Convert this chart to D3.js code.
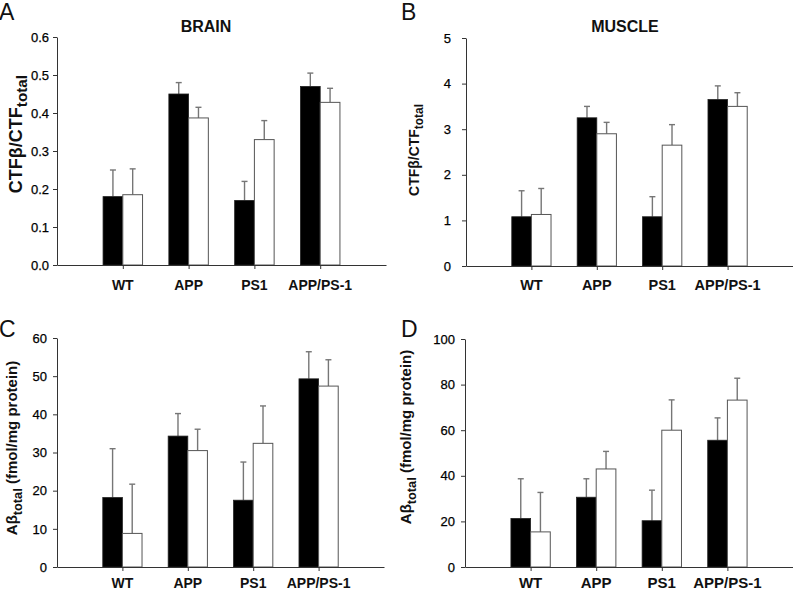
<!DOCTYPE html>
<html>
<head>
<meta charset="utf-8">
<script src="https://cdn.jsdelivr.net/npm/d3@7"></script>
<style>
body { margin: 0; background: #fff; }
svg { display: block; font-family: Arial, "Liberation Sans", sans-serif; }
</style>
</head>
<body>
<div></div>
<script>
// groups on the x axis
let groups = ["WT", "APP", "PS1", "APP/PS-1"];

// A - brain CTFb/CTFtotal
let brainCtfBlack = [0.18, 0.45, 0.17, 0.47];
let brainCtfBlackErr = [0.07, 0.03, 0.05, 0.035];
let brainCtfWhite = [0.185, 0.387, 0.33, 0.428];
let brainCtfWhiteErr = [0.068, 0.028, 0.05, 0.037];

// B - muscle CTFb/CTFtotal
let muscleCtfBlack = [1.08, 3.25, 1.08, 3.65];
let muscleCtfBlackErr = [0.57, 0.25, 0.44, 0.3];
let muscleCtfWhite = [1.13, 2.9, 2.65, 3.5];
let muscleCtfWhiteErr = [0.57, 0.25, 0.45, 0.3];

// C - brain Abeta total
let brainAbBlack = [18.2, 34.3, 17.5, 49.3];
let brainAbBlackErr = [12.8, 5.9, 10.0, 7.1];
let brainAbWhite = [8.8, 30.5, 32.4, 47.4];
let brainAbWhiteErr = [12.9, 5.6, 9.8, 6.9];

// D - muscle Abeta total
let muscleAbBlack = [21.3, 30.6, 20.3, 55.6];
let muscleAbBlackErr = [17.4, 8.1, 13.4, 9.8];
let muscleAbWhite = [15.4, 43, 60, 73.2];
let muscleAbWhiteErr = [17.3, 7.7, 13.3, 9.6];

// tick labels
let ticksA = [0, 0.1, 0.2, 0.3, 0.4, 0.5, 0.6];
let ticksB = [0, 1, 2, 3, 4, 5];
let ticksC = [0, 10, 20, 30, 40, 50, 60];
let ticksD = [0, 20, 40, 60, 80, 100];

let svgWidth = 793;
let svgHeight = 591;

let svg = d3.select("body div")
    .append("svg")
    .attr("width", svgWidth)
    .attr("height", svgHeight);

svg.append("rect")
    .attr("width", svgWidth)
    .attr("height", svgHeight)
    .attr("fill", "#ffffff");

function panel(p)
{
    let g = svg.append("g");

    let x = d3.scaleLinear().domain([0, groups.length + 1]).range([p.x0, p.x1]);
    let y = d3.scaleLinear().domain([0, p.ymax]).range([p.yBottom, p.yTop]);
    let step = x(1) - x(0);
    let bw = step * 0.3;

    let rows = groups.map((name, i) => ({
        name: name,
        cx: x(i + 1),
        black: p.black[i], blackErr: p.blackErr[i],
        white: p.white[i], whiteErr: p.whiteErr[i]
    }));

    // error bars (upper only)
    function errBar(cx, v, e)
    {
        g.append("line")
            .attr("x1", cx).attr("x2", cx)
            .attr("y1", y(v)).attr("y2", y(v + e))
            .attr("stroke", "#767676").attr("stroke-width", 1.4);
        g.append("line")
            .attr("x1", cx - 3).attr("x2", cx + 3)
            .attr("y1", y(v + e)).attr("y2", y(v + e))
            .attr("stroke", "#767676").attr("stroke-width", 1.4);
    }
    rows.forEach(r => {
        errBar(r.cx - bw / 2, r.black, r.blackErr);
        errBar(r.cx + bw / 2, r.white, r.whiteErr);
    });

    g.selectAll(".bk").data(rows).enter().append("rect")
        .attr("x", d => d.cx - bw)
        .attr("y", d => y(d.black))
        .attr("width", bw)
        .attr("height", d => y(0) - y(d.black))
        .attr("fill", "#000000")
        .attr("stroke", "#222")
        .attr("stroke-width", 0.8);

    g.selectAll(".wh").data(rows).enter().append("rect")
        .attr("x", d => d.cx)
        .attr("y", d => y(d.white))
        .attr("width", bw)
        .attr("height", d => y(0) - y(d.white))
        .attr("fill", "#ffffff")
        .attr("stroke", "#555")
        .attr("stroke-width", 1);

    // y axis
    let yAxis = g.append("g")
        .attr("transform", "translate(" + p.x0 + ",0)")
        .call(d3.axisLeft(y).tickValues(p.ticks).tickFormat(p.fmt)
            .tickSize(4).tickSizeOuter(0).tickPadding(p.pad));
    yAxis.select(".domain").attr("stroke", "#333");
    yAxis.selectAll(".tick line").attr("stroke", "#333");
    yAxis.selectAll("text")
        .attr("font-size", p.tickFont)
        .attr("font-family", "Arial, 'Liberation Sans', sans-serif")
        .attr("fill", "#000")
        .attr("stroke", "#000")
        .attr("stroke-width", 0.25);

    // x axis
    let xAxis = g.append("g")
        .attr("transform", "translate(0," + p.yBottom + ")")
        .call(d3.axisBottom(x).tickValues([1, 2, 3, 4]).tickFormat("")
            .tickSize(4).tickSizeOuter(0));
    xAxis.select(".domain").attr("stroke", "#333");
    xAxis.selectAll(".tick line").attr("stroke", "#333");

    g.selectAll(".cat").data(rows).enter().append("text")
        .attr("x", d => d.cx)
        .attr("y", p.catY)
        .attr("text-anchor", "middle")
        .attr("font-size", p.catFont)
        .attr("font-weight", "bold")
        .attr("fill", "#111")
        .text(d => d.name);

    // y title with subscript
    let yt = g.append("text")
        .attr("transform", "translate(" + p.titleX + "," + p.titleY + ") rotate(-90)")
        .attr("text-anchor", "middle")
        .attr("font-size", p.titleFont)
        .attr("font-weight", "bold")
        .attr("fill", "#111");
    yt.append("tspan").text(p.yLabel[0]);
    yt.append("tspan").attr("dy", p.titleFont * 0.3).attr("font-size", p.titleFont * 0.85).text(p.yLabel[1]);
    yt.append("tspan").attr("dy", -p.titleFont * 0.3).text(p.yLabel[2]);

    if (p.heading)
    {
        g.append("text")
            .attr("x", p.headingX)
            .attr("y", 32)
            .attr("text-anchor", "middle")
            .attr("font-size", 16)
            .attr("font-weight", "bold")
            .attr("fill", "#111")
            .text(p.heading);
    }

    g.append("text")
        .attr("x", p.letterX)
        .attr("y", p.letterY)
        .attr("font-size", 23)
        .attr("fill", "#111")
        .text(p.letter);
}

panel({
    letter: "A", letterX: -1, letterY: 20,
    heading: "BRAIN", headingX: 206,
    x0: 57, x1: 386, yBottom: 265, yTop: 37, ymax: 0.6,
    ticks: ticksA, fmt: d3.format(".1f"), pad: 4, tickFont: 13,
    black: brainCtfBlack, blackErr: brainCtfBlackErr,
    white: brainCtfWhite, whiteErr: brainCtfWhiteErr,
    catY: 290, catFont: 14,
    yLabel: ["CTFβ/CTF", "total", ""], titleX: 22, titleY: 134, titleFont: 18
});

panel({
    letter: "B", letterX: 401, letterY: 20,
    heading: "MUSCLE", headingX: 625,
    x0: 466, x1: 793, yBottom: 266, yTop: 38, ymax: 5,
    ticks: ticksB, fmt: d3.format("d"), pad: 11, tickFont: 13,
    black: muscleCtfBlack, blackErr: muscleCtfBlackErr,
    white: muscleCtfWhite, whiteErr: muscleCtfWhiteErr,
    catY: 290, catFont: 14.5,
    yLabel: ["CTFβ/CTF", "total", ""], titleX: 419, titleY: 150, titleFont: 14
});

panel({
    letter: "C", letterX: -1, letterY: 337,
    x0: 57, x1: 384, yBottom: 567, yTop: 338, ymax: 60,
    ticks: ticksC, fmt: d3.format("d"), pad: 6, tickFont: 13,
    black: brainAbBlack, blackErr: brainAbBlackErr,
    white: brainAbWhite, whiteErr: brainAbWhiteErr,
    catY: 588, catFont: 14,
    yLabel: ["Aβ", "total", " (fmol/mg protein)"], titleX: 17, titleY: 448, titleFont: 15
});

panel({
    letter: "D", letterX: 401, letterY: 337,
    x0: 465, x1: 793, yBottom: 567, yTop: 339, ymax: 100,
    ticks: ticksD, fmt: d3.format("d"), pad: 6, tickFont: 13,
    black: muscleAbBlack, blackErr: muscleAbBlackErr,
    white: muscleAbWhite, whiteErr: muscleAbWhiteErr,
    catY: 588, catFont: 15,
    yLabel: ["Aβ", "total", " (fmol/mg protein)"], titleX: 411, titleY: 437, titleFont: 15
});
</script>
</body>
</html>
